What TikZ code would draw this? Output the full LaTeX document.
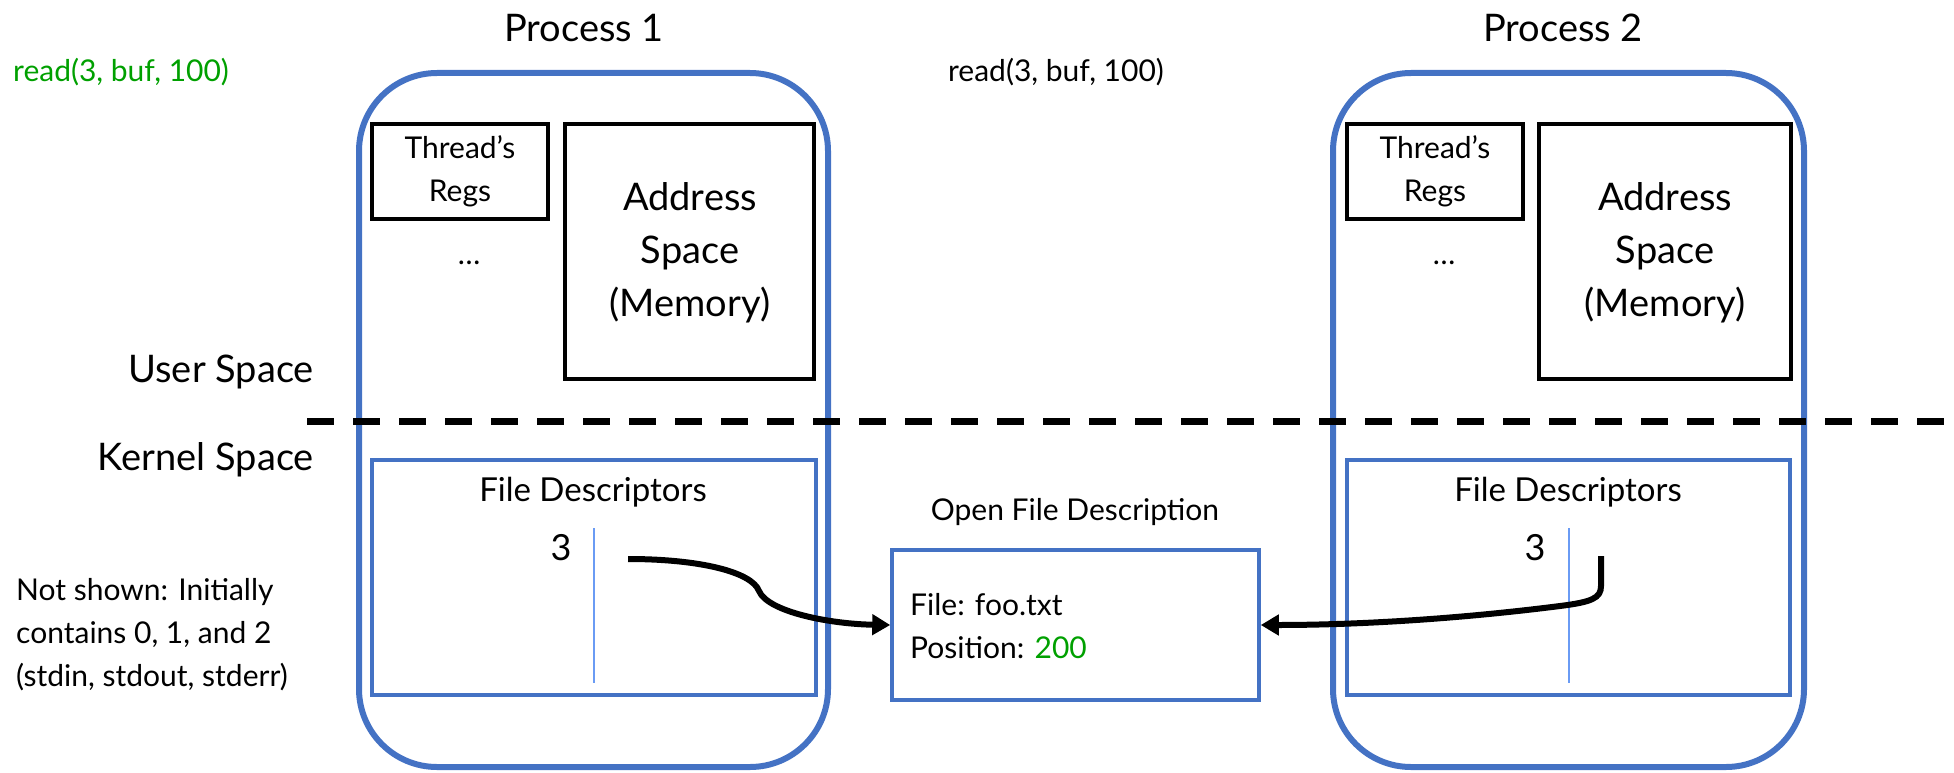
\documentclass[tikz,border=0pt]{standalone}
\usepackage{fontspec}
\setmainfont{Lato}
\usetikzlibrary{arrows.meta}
\definecolor{pblue}{HTML}{4472C4}
\definecolor{lblue}{HTML}{6A9BF4}
\definecolor{cgreen}{HTML}{00A000}
\newcommand{\fsz}[2]{\fontsize{#1}{#2}\selectfont}
\begin{document}
\begin{tikzpicture}[x=1pt,y=-1pt,
  proc/.style={draw=pblue,line width=6pt,rounded corners=78pt,inner sep=0pt,minimum height=694pt},
  blkbox/.style={draw=black,line width=3.5pt,inner sep=0pt},
  fdbox/.style={draw=pblue,line width=3.5pt,inner sep=0pt,minimum height=235pt},
  fdline/.style={draw=lblue,line width=2pt},
  bigtxt/.style={font=\fsz{38}{53},inner sep=0pt,align=center},
  midtxt/.style={font=\fsz{33}{43},inner sep=0pt,align=center},
  smltxt/.style={font=\fsz{30}{43},inner sep=0pt,align=left},
  ptr/.style={line width=6pt,-{Triangle[length=18pt,width=20pt]}},
  sep/.style={line width=7pt,dash pattern=on 26.7pt off 19.3pt}
]
\useasboundingbox (0,0) rectangle (1954,773);
% process boxes
\node[proc,minimum width=469pt] (p1) at (593.5,420) {};
\node[proc,minimum width=471pt] (p2) at (1568.5,420) {};
% titles
\node[bigtxt] (t1) at (584,28) {Process 1};
\node[bigtxt] (t2) at (1563,28) {Process 2};
% read calls
\node[smltxt,anchor=west,text=cgreen] (r1) at (13,72) {read(3, buf, 100)};
\node[smltxt] (r2) at (1056,72) {read(3, buf, 100)};
% user space boxes
\node[blkbox,minimum width=176pt,minimum height=95pt] (tr1) at (460,171.5) {};
\node[smltxt,align=center] (tr1t) at (460,171) {Thread’s\\Regs};
\node[blkbox,minimum width=249pt,minimum height=255pt] (as1) at (689.5,251.5) {};
\node[bigtxt] (as1t) at (690,253) {Address\\Space\\(Memory)};
\node[smltxt] (d1) at (469,263) {…};
\node[blkbox,minimum width=176pt,minimum height=95pt] (tr2) at (1435,171.5) {};
\node[smltxt,align=center] (tr2t) at (1435,171) {Thread’s\\Regs};
\node[blkbox,minimum width=252pt,minimum height=255pt] (as2) at (1665,251.5) {};
\node[bigtxt] (as2t) at (1665,253) {Address\\Space\\(Memory)};
\node[smltxt] (d2) at (1444,263) {…};
% space labels
\node[bigtxt,anchor=east] (us) at (314,372) {User Space};
\node[bigtxt,anchor=east] (ks) at (314,460) {Kernel Space};
% separator
\coordinate (sepa) at (307,421);
\coordinate (sepb) at (1954,421);
\draw[sep] (sepa) -- (sepb);
% file descriptor tables
\node[fdbox,minimum width=444pt] (fd1) at (594,577.5) {};
\node[midtxt] (fd1t) at (593,492) {File Descriptors};
\node[midtxt,font=\fsz{36}{43}] (n1) at (561,548) {3};
\coordinate (v1a) at (594,528);
\coordinate (v1b) at (594,683);
\draw[fdline] (v1a) -- (v1b);
\node[fdbox,minimum width=443pt] (fd2) at (1568.5,577.5) {};
\node[midtxt] (fd2t) at (1568,492) {File Descriptors};
\node[midtxt,font=\fsz{36}{43}] (n2) at (1535,548) {3};
\coordinate (v2a) at (1569,528);
\coordinate (v2b) at (1569,683);
\draw[fdline] (v2a) -- (v2b);
% open file description
\node[smltxt,align=center] (ofdt) at (1075,512) {Open File Description};
\node[draw=pblue,line width=3.5pt,minimum width=367pt,minimum height=150pt,inner sep=0pt] (ofd) at (1075.5,625) {};
\node[smltxt,anchor=west] (ofdc) at (910,626) {File: foo.txt\\Position: \textcolor{cgreen}{200}};
% note
\node[smltxt,anchor=west] (note) at (16,635) {Not shown: Initially\\contains 0, 1, and 2\\(stdin, stdout, stderr)};
% pointers
\coordinate (s1) at (628,559);
\draw[ptr] (s1) .. controls (700,559) and (752,572) .. (759,591) .. controls (768,612) and (830,624) .. (ofd.west);
\coordinate (s2) at (1601,556);
\draw[ptr] (s2) -- (1601,586) .. controls (1601,598) and (1592,602) .. (1560,606) .. controls (1450,620) and (1350,625) .. (ofd.east);
\end{tikzpicture}
\end{document}
